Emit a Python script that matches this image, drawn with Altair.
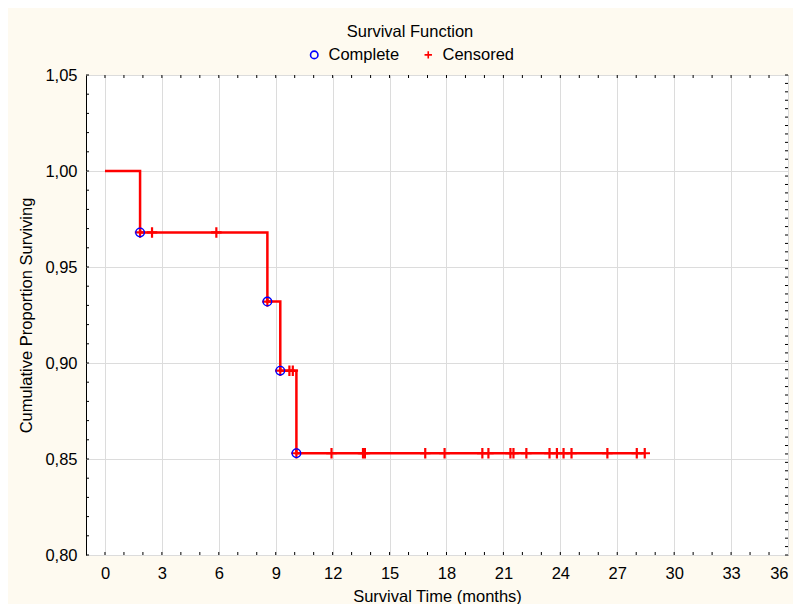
import altair as alt
import pandas as pd
import numpy as np

# ---- data ----
# Kaplan-Meier step curve
step_time = [0.0, 1.85, 8.56, 9.24, 10.09, 28.45]
step_surv = [1.000, 0.968, 0.932, 0.896, 0.853, 0.853]

# complete (event) observations
complete_time = [1.85, 8.56, 9.24, 10.09]
complete_surv = [0.968, 0.932, 0.896, 0.853]

# censored observations
censored_time = [1.85, 2.48, 5.87, 8.56, 9.24, 9.72, 9.90, 10.09,
                 11.94, 13.60, 13.70, 16.88, 17.90, 19.89, 20.21, 21.37,
                 21.53, 22.21, 23.43, 23.82, 24.17, 24.59, 26.48, 28.03, 28.45]
censored_surv = [0.968, 0.968, 0.968, 0.932, 0.896, 0.896, 0.896, 0.853,
                 0.853, 0.853, 0.853, 0.853, 0.853, 0.853, 0.853, 0.853,
                 0.853, 0.853, 0.853, 0.853, 0.853, 0.853, 0.853, 0.853, 0.853]

x_ticks = list(range(0, 37, 3))
y_ticks = [0.80, 0.85, 0.90, 0.95, 1.00, 1.05]

# ---- tables ----
step_df = pd.DataFrame({"time": step_time, "surv": step_surv})
complete_df = pd.DataFrame({"time": complete_time, "surv": complete_surv,
                            "type": ["Complete"] * len(complete_time)})
censored_df = pd.DataFrame({"time": censored_time, "surv": censored_surv,
                            "type": ["Censored"] * len(censored_time)})

# inward minor tick positions (axis decoration)
xminor_df = pd.DataFrame({"time": np.arange(0, 36)})
yminor_df = pd.DataFrame({"surv": np.round(np.arange(0.80, 1.0501, 0.01), 3)})
yright_df = pd.DataFrame({"surv": np.linspace(0.80, 1.05, 58)})

W, H = 702, 480
FONT = "Liberation Sans"
FS = 16.5

xscale = alt.Scale(domain=[-1, 36], nice=False, zero=False)
yscale = alt.Scale(domain=[0.80, 1.05], nice=False, zero=False)

xaxis = alt.Axis(values=x_ticks, title="Survival Time (months)", grid=True,
                 gridColor="#DCDCDC", gridWidth=1, domain=False, ticks=False,
                 tickSize=0, labelFontSize=FS, labelColor="black",
                 labelPadding=10, titleFontSize=FS, titleFontWeight="normal",
                 titleColor="black", titlePadding=7, labelFont=FONT,
                 titleFont=FONT)
yaxis = alt.Axis(values=y_ticks, title="Cumulative Proportion Surviving",
                 grid=True, gridColor="#DCDCDC", gridWidth=1, domain=False,
                 ticks=False, tickSize=0, labelFontSize=FS, labelColor="black",
                 labelPadding=9,
                 labelExpr="replace(format(datum.value, '.2f'), '.', ',')",
                 titleFontSize=FS, titleFontWeight="normal", titleColor="black",
                 titlePadding=10, labelFont=FONT, titleFont=FONT)

X = alt.X("time:Q", scale=xscale, axis=xaxis, title="Survival Time (months)")
Y = alt.Y("surv:Q", scale=yscale, axis=yaxis,
          title="Cumulative Proportion Surviving")

legend = alt.Legend(title="Survival Function", orient="none", legendX=220,
                    legendY=-51, direction="horizontal", titleAnchor="middle",
                    titleFontSize=FS, titleFontWeight="normal",
                    titleColor="black", titleFont=FONT, labelFont=FONT,
                    labelFontSize=FS, labelColor="black", symbolSize=55,
                    symbolStrokeWidth=1.6, columnPadding=20, labelOffset=6,
                    titlePadding=6, padding=0)

color_scale = alt.Scale(domain=["Complete", "Censored"],
                        range=["#0000FF", "#FF0000"])
shape_scale = alt.Scale(domain=["Complete", "Censored"],
                        range=["circle", "M-1,0H1M0,-1V1"])

bottom_ticks = alt.Chart(xminor_df).mark_rule(color="black", strokeWidth=1).encode(
    x=X, y=alt.value(H), y2=alt.value(H - 3))
top_ticks = alt.Chart(xminor_df).mark_rule(color="black", strokeWidth=1).encode(
    x=X, y=alt.value(0), y2=alt.value(3))
left_ticks = alt.Chart(yminor_df).mark_rule(color="black", strokeWidth=1).encode(
    y=Y, x=alt.value(0), x2=alt.value(3))
right_ticks = alt.Chart(yright_df).mark_rule(color="black", strokeWidth=1).encode(
    y=Y, x=alt.value(W), x2=alt.value(W - 3))

line = alt.Chart(step_df).mark_line(
    interpolate="step-after", color="#FF0000", strokeWidth=2.5).encode(x=X, y=Y)

crosses = alt.Chart(censored_df).mark_point(
    filled=False, size=110, strokeWidth=2.2, opacity=1).encode(
    x=X, y=Y,
    color=alt.Color("type:N", scale=color_scale, legend=legend),
    shape=alt.Shape("type:N", scale=shape_scale, legend=legend))

circles = alt.Chart(complete_df).mark_point(
    filled=False, size=75, strokeWidth=1.3, opacity=1).encode(
    x=X, y=Y,
    color=alt.Color("type:N", scale=color_scale, legend=legend),
    shape=alt.Shape("type:N", scale=shape_scale, legend=legend))

chart = alt.layer(line, bottom_ticks, top_ticks, left_ticks, right_ticks,
                  crosses, circles).properties(
    width=W, height=H,
    autosize=alt.AutoSizeParams(type="none"),
    padding={"left": 78, "top": 67, "right": 5, "bottom": 49},
    background="#FEFAF0",
).configure(
    font=FONT
).configure_view(
    stroke="black", strokeWidth=1, fill="white"
)

chart.save("out.html", embed_options={"renderer": "svg", "actions": False})
